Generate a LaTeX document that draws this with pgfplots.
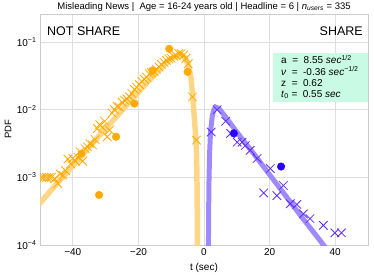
\documentclass[border=0pt]{standalone}
\usepackage{pgfplots}
\pgfplotsset{compat=1.18}
\usepackage{fontspec}
\setmainfont{Liberation Sans}
\definecolor{orA}{RGB}{255,170,0}
\definecolor{orL}{RGB}{255,210,120}
\definecolor{puX}{RGB}{95,45,255}
\definecolor{puC}{RGB}{40,0,255}
\definecolor{puL}{RGB}{150,125,255}
\definecolor{mint}{RGB}{200,250,228}
\begin{document}
\begin{tikzpicture}
\begin{axis}[
  at={(0,0)}, anchor=south west,
  scale only axis, width=328pt, height=231pt,
  xmin=-50, xmax=50, ymin=1e-4, ymax=0.26, ymode=log,
  xtick={-40,-20,0,20,40}, xticklabels={−40,−20,0,20,40},
  ytick={1e-4,1e-3,1e-2,1e-1},
  yticklabels={10\textsuperscript{−4},10\textsuperscript{−3},10\textsuperscript{−2},10\textsuperscript{−1}},
  minor ytick={}, 
  grid=major, major grid style={draw=black!13, line width=0.8pt},
  axis line style={draw=black!20, line width=0.9pt},
  major tick length=0pt, minor tick length=0pt,
  tick label style={font=\fontsize{10}{12}\selectfont},
  clip marker paths=true,
]
% fitted curves
\addplot[orL, line width=5.5pt, opacity=0.9] coordinates {
(-52,3.236e-4) (-50,4.169e-4) (-45,7.943e-4) (-40,1.479e-3) (-35,2.818e-3)
(-30,5.248e-3) (-25,9.772e-3) (-20,1.820e-2) (-17,2.630e-2) (-14,3.715e-2)
(-12,4.677e-2) (-10,5.623e-2) (-8,6.310e-2) (-7,6.457e-2) (-6,6.026e-2)
(-5,4.898e-2) (-4.5,3.981e-2) (-4.0,3.020e-2) (-3.5,1.738e-2) (-3.0,8.318e-3)
(-2.6,4.467e-3) (-2.3,2.512e-3) (-2.15,1.0e-3) (-2.05,3.162e-4) (-2.0,1.0e-4)
(-1.97,3.162e-5)};
\addplot[puL, line width=5pt, opacity=0.9] coordinates {
(1.3,3.162e-5) (1.4,2.512e-4) (1.5,7.943e-4) (1.7,2.239e-3) (2.0,4.786e-3)
(2.5,7.943e-3) (3.0,1.0e-2) (3.5,1.096e-2) (4.5,1.047e-2) (6,8.511e-3)
(10,4.677e-3) (15,2.291e-3) (20,1.096e-3) (25,5.248e-4) (30,2.512e-4)
(35,1.230e-4) (38,7.943e-5)};
% orange crosses
\addplot[only marks, mark=x, mark size=6pt, orA, mark options={line width=0.8pt}] coordinates {
(-50.3,3.02e-4) (-50.3,2.09e-4) (-49.5,1.0e-3) (-48.8,1.0e-3) (-48.0,1.0e-3)
(-47.2,1.0e-3) (-46.5,1.0e-3) (-45.5,9.55e-4) (-44.6,8.13e-4) (-43.8,1.12e-3)
(-43.0,1.07e-3) (-42.2,1.26e-3) (-41.5,1.86e-3) (-40.7,1.585e-3) (-40.0,1.905e-3)
(-39.2,1.738e-3) (-38.5,1.995e-3) (-37.8,2.399e-3) (-37.0,1.738e-3) (-36.2,2.63e-3)
(-35.5,2.818e-3) (-34.8,3.162e-3) (-34.0,3.02e-3) (-33.2,3.631e-3) (-32.5,5.248e-3)
(-31.8,6.026e-3) (-31.0,5.495e-3) (-30.3,6.761e-3) (-29.5,3.981e-3) (-28.8,5.012e-3)
(-28.0,8.913e-3) (-27.3,1.0e-2) (-26.5,1.122e-2) (-25.8,1.096e-2) (-25.0,1.288e-2)
(-24.2,1.380e-2) (-23.5,1.445e-2) (-22.7,1.549e-2) (-22.0,1.738e-2) (-21.2,1.995e-2)
(-20.5,2.138e-2) (-19.7,2.344e-2) (-19.0,2.630e-2) (-18.2,2.818e-2) (-17.5,3.020e-2)
(-16.7,3.388e-2) (-16.0,3.548e-2) (-15.2,3.631e-2) (-14.5,3.981e-2) (-13.7,4.266e-2)
(-13.0,4.677e-2) (-12.2,5.012e-2) (-11.5,5.370e-2) (-10.7,5.623e-2) (-10.0,5.754e-2)
(-9.2,6.166e-2) (-8.5,6.310e-2) (-7.7,6.761e-2) (-7.0,6.761e-2) (-6.2,6.457e-2)
(-5.5,5.754e-2) (-4.8,4.786e-2) (-3.5,1.549e-2) (-2.3,3.548e-3)};
% orange circles
\addplot[only marks, mark=*, mark size=3.8pt, orA, mark options={draw=orA, fill=orA}] coordinates {
(-37.4,2.239e-3) (-32.0,5.495e-4) (-26.8,3.981e-3) (-21.2,1.230e-2)
(-15.7,3.802e-2) (-10.6,7.943e-2) (-5.0,3.631e-2)};
% purple crosses
\addplot[only marks, mark=x, mark size=6pt, puX, mark options={line width=0.8pt}] coordinates {
(2.2,4.677e-3) (4.0,1.0e-2) (6.6,6.761e-3) (8.1,4.467e-3) (10.1,3.311e-3)
(11.6,3.311e-3) (12.6,2.951e-3) (14.1,2.512e-3) (16.2,1.905e-3) (20.2,1.349e-3)
(18.2,5.888e-4) (22.2,5.370e-4) (24.2,7.586e-4) (26.3,4.074e-4) (28.3,3.981e-4)
(30.3,2.884e-4) (32.3,2.455e-4) (36.4,1.950e-4) (39.9,1.514e-4) (41.9,1.514e-4)
(34.3,8.511e-5) (38.2,8.511e-5) (46.0,8.511e-5)};
% purple circles
\addplot[only marks, mark=*, mark size=3.8pt, puC, mark options={draw=puC, fill=puC}] coordinates {
(9.1,4.467e-3) (23.5,1.445e-3)};
\end{axis}
% text
\node[font=\fontsize{9.5}{11}\selectfont] at (164pt,237.7pt) {Misleading News |\ \ Age = 16-24 years old | Headline = 6 | \textit{n}\textsubscript{\textit{users}} = 335};
\node[font=\fontsize{10}{12}\selectfont] at (164pt,-22.5pt) {t (sec)};
\node[font=\fontsize{9.5}{12}\selectfont, rotate=90] at (-32pt,115.5pt) {PDF};
\node[font=\fontsize{12.5}{14}\selectfont, anchor=west, inner sep=0pt] at (7pt,213.3pt) {NOT SHARE};
\node[font=\fontsize{12.5}{14}\selectfont, anchor=east, inner sep=0pt] at (323pt,213.3pt) {SHARE};
\fill[mint] (233pt,143.3pt) rectangle (328pt,191.7pt);
\begin{scope}[every node/.style={font=\fontsize{10}{11}\selectfont, anchor=west, inner sep=0pt}]
\node at (241pt,185.5pt) {a\ \ =\ \ 8.55 \textit{sec}\textsuperscript{1/2}};
\node at (241pt,174pt) {\textit{ν}\ \ =\ \ -0.36 \textit{sec}\textsuperscript{−1/2}};
\node at (241pt,162pt) {z\ \ =\ \ 0.62};
\node at (241pt,150.5pt) {\textit{t}\textsubscript{0}\ =\ \ 0.55 \textit{sec}};
\end{scope}
\pgfresetboundingbox
\path (-40pt,-30pt) rectangle (334pt,245pt);
\end{tikzpicture}
\end{document}
